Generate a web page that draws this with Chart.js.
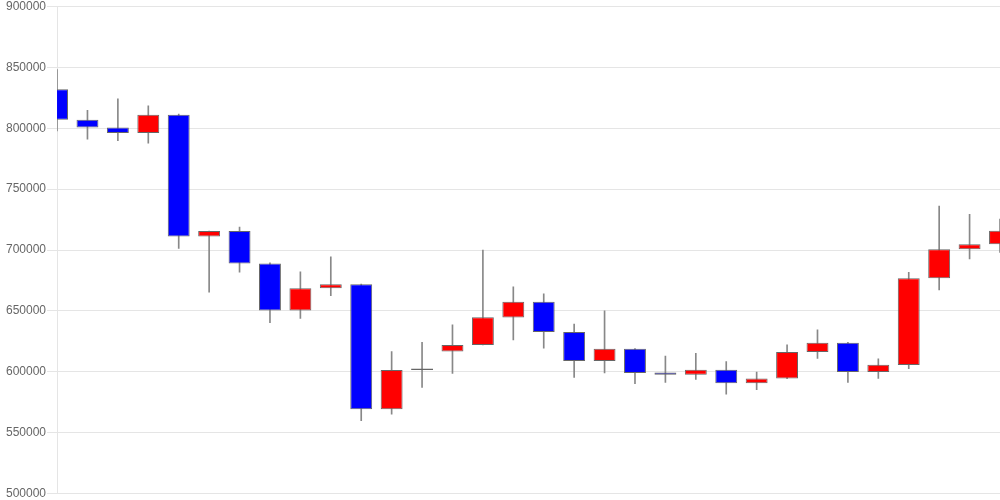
<!DOCTYPE html>
<html>
<head>
<meta charset="utf-8">
<script src="https://cdn.jsdelivr.net/npm/chart.js@4.4.0/dist/chart.umd.min.js"></script>
<style>
  body { margin: 0; background: #fff; }
  #wrap { width: 1000px; height: 500px; }
</style>
</head>
<body>
<div id="wrap"><canvas id="candles" width="1000" height="500"></canvas></div>
<script>
// one entry per session, left to right
const days = ['1', '2', '3', '4', '5', '6', '7', '8', '9', '10', '11', '12', '13', '14', '15', '16',
              '17', '18', '19', '20', '21', '22', '23', '24', '25', '26', '27', '28', '29', '30', '31', '32'];
const opens  = [832200, 807100, 800600, 796100, 811200, 711200, 715600, 688800, 650200, 668600, 671900, 569100, 601400, 616600, 621900, 644500,
                657400, 632500, 608800, 618800, 599200, 597500, 601600, 590400, 594300, 616100, 623800, 599700, 605500, 676800, 700600, 704700];
const highs  = [848400, 814800, 824300, 818600, 811800, 715600, 718800, 689500, 682000, 694300, 672000, 616600, 624000, 638500, 700000, 669700,
                663900, 639100, 650000, 619000, 612900, 615000, 608200, 599700, 622100, 634400, 624000, 610600, 681700, 736100, 729300, 725400];
const lows   = [797800, 791200, 789900, 787900, 701400, 665300, 681700, 640200, 643700, 662500, 559800, 565000, 587100, 598600, 621900, 626000,
                619400, 595300, 598900, 590100, 591200, 593700, 581400, 585200, 594300, 610900, 591200, 594500, 602500, 667200, 692600, 698100];
const closes = [807100, 800600, 796100, 811200, 711200, 715600, 688800, 650200, 668600, 671900, 569100, 601400, 602500, 621900, 644800, 657400,
                632500, 608800, 618800, 598900, 597500, 601600, 590400, 594300, 616100, 623800, 599700, 605700, 676800, 700600, 704700, 715800];
const yTicks = [500000, 550000, 600000, 650000, 700000, 750000, 800000, 850000, 900000];

const bodies = days.map((d, i) => [opens[i], closes[i]]);
const wicks = days.map((d, i) => [lows[i], highs[i]]);
const bodyColors = days.map((d, i) => closes[i] < opens[i] ? '#0000ff' : '#ff0000');

Chart.defaults.font.family = '"Liberation Sans", Arial, sans-serif';
Chart.defaults.font.size = 12;
Chart.defaults.color = '#666';

new Chart(document.getElementById('candles'), {
  type: 'bar',
  data: {
    labels: days,
    datasets: [
      {
        label: 'body',
        data: bodies,
        backgroundColor: bodyColors,
        borderColor: '#666',
        borderWidth: 1,
        borderSkipped: false,
        grouped: false,
        categoryPercentage: 0.8,
        barPercentage: 0.9
      },
      {
        label: 'wick',
        data: wicks,
        backgroundColor: '#888',
        borderWidth: 0,
        barThickness: 1,
        grouped: false
      }
    ]
  },
  options: {
    responsive: false,
    animation: false,
    layout: { padding: { left: 5, top: 0, right: 0, bottom: 0 } },
    plugins: {
      legend: { display: false },
      tooltip: { enabled: false }
    },
    scales: {
      x: {
        display: false,
        offset: false
      },
      y: {
        min: yTicks[0],
        max: yTicks[yTicks.length - 1],
        afterBuildTicks: axis => { axis.ticks = yTicks.map(v => ({ value: v })); },
        ticks: { padding: 1, font: { lineHeight: 0.95 }, callback: v => String(v) },
        grid: { color: 'rgba(0,0,0,0.1)', tickLength: 10 },
        border: { color: 'rgba(0,0,0,0.1)' }
      }
    }
  }
});
</script>
</body>
</html>
